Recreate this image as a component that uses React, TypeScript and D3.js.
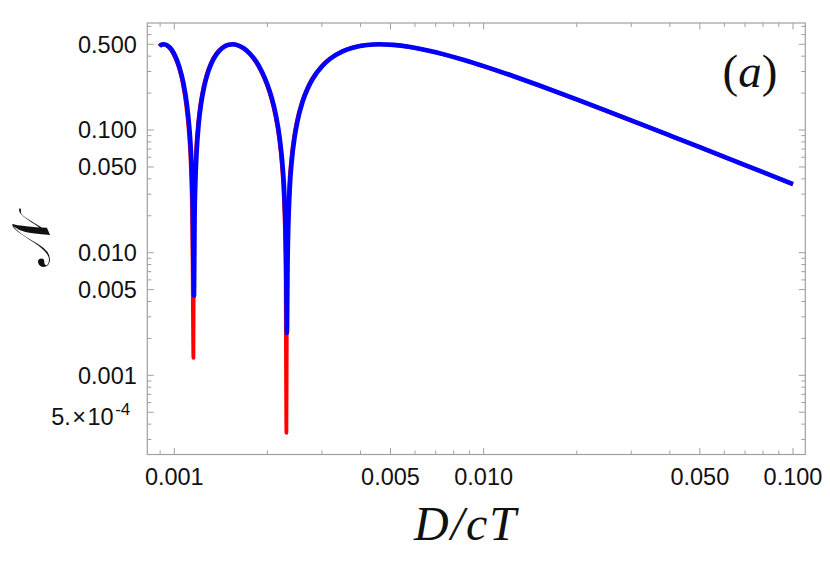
import { useEffect, useRef } from 'react';
import * as d3 from 'd3';

// blue curve
const blueX = [
    0.000897, 0.00091, 0.000925, 0.00095, 0.00098, 0.00101, 0.00104, 0.00107, 0.0011, 0.00112,
    0.00113, 0.00114, 0.001148, 0.001153, 0.001158, 0.001163, 0.00117, 0.00118, 0.0012, 0.00122,
    0.00125, 0.00128, 0.00132, 0.00137, 0.00143, 0.0015, 0.00155, 0.0016, 0.00168, 0.00176,
    0.00184, 0.00192, 0.002, 0.00207, 0.00213, 0.00219, 0.00224, 0.00227, 0.0023, 0.002312,
    0.002325, 0.00236, 0.0024, 0.00245, 0.0025, 0.0026, 0.0027, 0.0028, 0.003, 0.0032,
    0.0035, 0.0038, 0.0042, 0.0046, 0.0051, 0.0058, 0.0066, 0.0075, 0.0087, 0.01,
    0.0125, 0.015, 0.02, 0.025, 0.03, 0.04, 0.05, 0.065, 0.08, 0.1,
];
const blueY = [
    0.483, 0.496, 0.5, 0.489, 0.452, 0.394, 0.323, 0.242, 0.157, 0.1,
    0.072, 0.044, 0.0217, 0.0081, 0.00446, 0.019, 0.0377, 0.0639, 0.1143, 0.162,
    0.2276, 0.286, 0.352, 0.4156, 0.4667, 0.4959, 0.4998, 0.4924, 0.4625, 0.4168,
    0.3612, 0.299, 0.2351, 0.1794, 0.1326, 0.087, 0.0503, 0.029, 0.0081, 0.00222,
    0.00885, 0.032, 0.0575, 0.0881, 0.1171, 0.1706, 0.2182, 0.2604, 0.3298, 0.3826,
    0.4379, 0.4714, 0.4938, 0.5, 0.4946, 0.4749, 0.4457, 0.4119, 0.3706, 0.3321,
    0.2744, 0.2328, 0.1776, 0.1432, 0.1199, 0.0903, 0.0724, 0.0557, 0.0454, 0.0363,
];

// red curve: sits a hair left of the blue one, with much deeper dips
const redX = [
    0.000892, 0.000905, 0.000919, 0.000944, 0.000974, 0.001004, 0.001034, 0.001064, 0.001093, 0.001113,
    0.001123, 0.001133, 0.001141, 0.001146, 0.001153, 0.001157, 0.001164, 0.001174, 0.001194, 0.001214,
    0.001244, 0.001274, 0.001313, 0.001363, 0.001423, 0.001493, 0.001542, 0.001592, 0.001672, 0.001751,
    0.001831, 0.00191, 0.00199, 0.00206, 0.002119, 0.002179, 0.002229, 0.002259, 0.002289, 0.002304,
    0.002314, 0.002348, 0.002388, 0.002438, 0.002488, 0.002587, 0.002687, 0.002786, 0.002985, 0.003184,
    0.003483, 0.003781, 0.004179, 0.004577, 0.005075, 0.005771, 0.006567, 0.007463, 0.008657, 0.00995,
    0.01244, 0.01493, 0.0199, 0.02488, 0.02985, 0.0398, 0.04975, 0.06468, 0.0796, 0.1,
];
const redY = [
    0.483, 0.496, 0.5, 0.489, 0.452, 0.394, 0.323, 0.242, 0.157, 0.1,
    0.072, 0.044, 0.0217, 0.0081, 0.001387, 0.019, 0.0377, 0.0639, 0.1143, 0.162,
    0.2276, 0.286, 0.352, 0.4156, 0.4667, 0.4959, 0.4998, 0.4924, 0.4625, 0.4168,
    0.3612, 0.299, 0.2351, 0.1794, 0.1326, 0.087, 0.0503, 0.029, 0.0081, 0.00034,
    0.00885, 0.032, 0.0575, 0.0881, 0.1171, 0.1706, 0.2182, 0.2604, 0.3298, 0.3826,
    0.4379, 0.4714, 0.4938, 0.5, 0.4946, 0.4749, 0.4457, 0.4119, 0.3706, 0.3321,
    0.2744, 0.2328, 0.1776, 0.1432, 0.1199, 0.0903, 0.0724, 0.0557, 0.0454, 0.0360,
];

const majorX = [0.001, 0.005, 0.01, 0.05, 0.1];
const majorXLabels = ['0.001', '0.005', '0.010', '0.050', '0.100'];
const minorX = [0.0009, 0.002, 0.003, 0.004, 0.006, 0.007, 0.008, 0.009, 0.02, 0.03, 0.04, 0.06, 0.07, 0.08, 0.09];

const majorY = [0.5, 0.1, 0.05, 0.01, 0.005, 0.001, 0.0005];
const majorYLabels = ['0.500', '0.100', '0.050', '0.010', '0.005', '0.001', '5.|×|10^-4'];
const minorY = [
    0.7, 0.6, 0.4, 0.3, 0.2, 0.09, 0.08, 0.07, 0.06, 0.04, 0.03, 0.02,
    0.009, 0.008, 0.007, 0.006, 0.004, 0.003, 0.002,
    0.0009, 0.0008, 0.0007, 0.0006, 0.0004, 0.0003,
];

const xDomain = [0.000818, 0.1096];
const yDomain = [0.0002262, 0.7457];

const width = 830;
const height = 562;
const margin = { top: 23, right: 24.7, bottom: 107.5, left: 147.3 };
const frameColor = '#a0a0a0';
const tickFont = '"Liberation Sans", Arial, sans-serif';
const mathFont = '"Liberation Serif", "DejaVu Serif", serif';

const App = () => {
    const svgRef = useRef<SVGSVGElement>(null);

    useEffect(() => {
        const svg = d3.select(svgRef.current);
        svg.selectAll('*').remove();

        const x0 = margin.left;
        const x1 = width - margin.right;
        const y0 = height - margin.bottom;
        const y1 = margin.top;

        const x = d3.scaleLog().domain(xDomain).range([x0, x1]);
        const y = d3.scaleLog().domain(yDomain).range([y0, y1]);

        // frame
        svg.append('rect')
            .attr('x', x0)
            .attr('y', y1)
            .attr('width', x1 - x0)
            .attr('height', y0 - y1)
            .attr('fill', 'none')
            .attr('stroke', frameColor)
            .attr('stroke-width', 1.2);

        // ticks on all four sides, pointing in
        const ticks = svg.append('g').attr('stroke', frameColor).attr('stroke-width', 1);
        const xTicks = [
            ...majorX.map(v => ({ v, len: 6.5 })),
            ...minorX.map(v => ({ v, len: 4 })),
        ];
        const yTicks = [
            ...majorY.map(v => ({ v, len: 6.5 })),
            ...minorY.map(v => ({ v, len: 4 })),
        ];
        xTicks.forEach(t => {
            ticks.append('line').attr('x1', x(t.v)).attr('x2', x(t.v)).attr('y1', y0).attr('y2', y0 - t.len);
            ticks.append('line').attr('x1', x(t.v)).attr('x2', x(t.v)).attr('y1', y1).attr('y2', y1 + t.len);
        });
        yTicks.forEach(t => {
            ticks.append('line').attr('y1', y(t.v)).attr('y2', y(t.v)).attr('x1', x0).attr('x2', x0 + t.len);
            ticks.append('line').attr('y1', y(t.v)).attr('y2', y(t.v)).attr('x1', x1).attr('x2', x1 - t.len);
        });

        // x tick labels
        svg.append('g')
            .selectAll('text')
            .data(majorX)
            .join('text')
            .attr('x', d => x(d))
            .attr('y', y0 + 30.7)
            .attr('text-anchor', 'middle')
            .attr('font-family', tickFont)
            .attr('font-size', 23.5)
            .attr('fill', '#111')
            .text((d, i) => majorXLabels[i]);

        // y tick labels
        const yl = svg.append('g');
        majorY.forEach((v, i) => {
            const label = majorYLabels[i];
            const t = yl.append('text')
                .attr('y', y(v) + 8.3)
                .attr('text-anchor', 'end')
                .attr('font-family', tickFont)
                .attr('font-size', 23.5)
                .attr('fill', '#111');
            if (label.includes('^')) {
                const [base, exp] = label.split('^');
                t.attr('x', x0 - 17).attr('y', y(v) + 12.3);
                base.split('|').forEach((part, k) => {
                    t.append('tspan').attr('dx', k ? 1.5 : 0).text(part);
                });
                t.append('tspan').attr('dx', 1.5).attr('dy', -10).attr('font-size', 17).text(exp);
            } else {
                t.attr('x', x0 - 10.5).text(label);
            }
        });

        const line = d3
            .line<[number, number]>()
            .x(d => x(d[0]))
            .y(d => y(d[1]))
            .curve(d3.curveMonotoneX);

        svg.append('path')
            .attr('d', line(redX.map((v, i) => [v, redY[i]] as [number, number])))
            .attr('fill', 'none')
            .attr('stroke', '#ff0000')
            .attr('stroke-width', 3.8)
            .attr('stroke-linejoin', 'round')
            .attr('stroke-linecap', 'butt');

        svg.append('path')
            .attr('d', line(blueX.map((v, i) => [v, blueY[i]] as [number, number])))
            .attr('fill', 'none')
            .attr('stroke', '#0000ff')
            .attr('stroke-width', 4.6)
            .attr('stroke-linejoin', 'round')
            .attr('stroke-linecap', 'butt');

        // axis titles
        svg.append('text')
            .attr('x', 466)
            .attr('y', 540)
            .attr('text-anchor', 'middle')
            .attr('font-family', mathFont)
            .attr('font-style', 'italic')
            .attr('font-size', 48)
            .attr('letter-spacing', 2)
            .attr('fill', '#111')
            .text('D/cT');

        svg.append('text')
            .attr('transform', `translate(50,${(y0 + y1) / 2 + 2}) rotate(-90)`)
            .attr('text-anchor', 'middle')
            .attr('font-family', '"DejaVu Serif", "DejaVu Sans", serif')
            .attr('font-size', 54)
            .attr('fill', '#111')
            .text('𝒩');

        // panel tag
        const tag = svg.append('text')
            .attr('x', 750)
            .attr('y', 87)
            .attr('text-anchor', 'middle')
            .attr('font-family', mathFont)
            .attr('font-size', 47)
            .attr('fill', '#111');
        tag.append('tspan').text('(');
        tag.append('tspan').attr('font-style', 'italic').text('a');
        tag.append('tspan').text(')');
    }, []);

    return (
        <svg
            ref={svgRef}
            width={width}
            height={height}
            style={{ position: 'absolute', left: 0, top: 0, background: '#fff' }}
        ></svg>
    );
};

export default App;
